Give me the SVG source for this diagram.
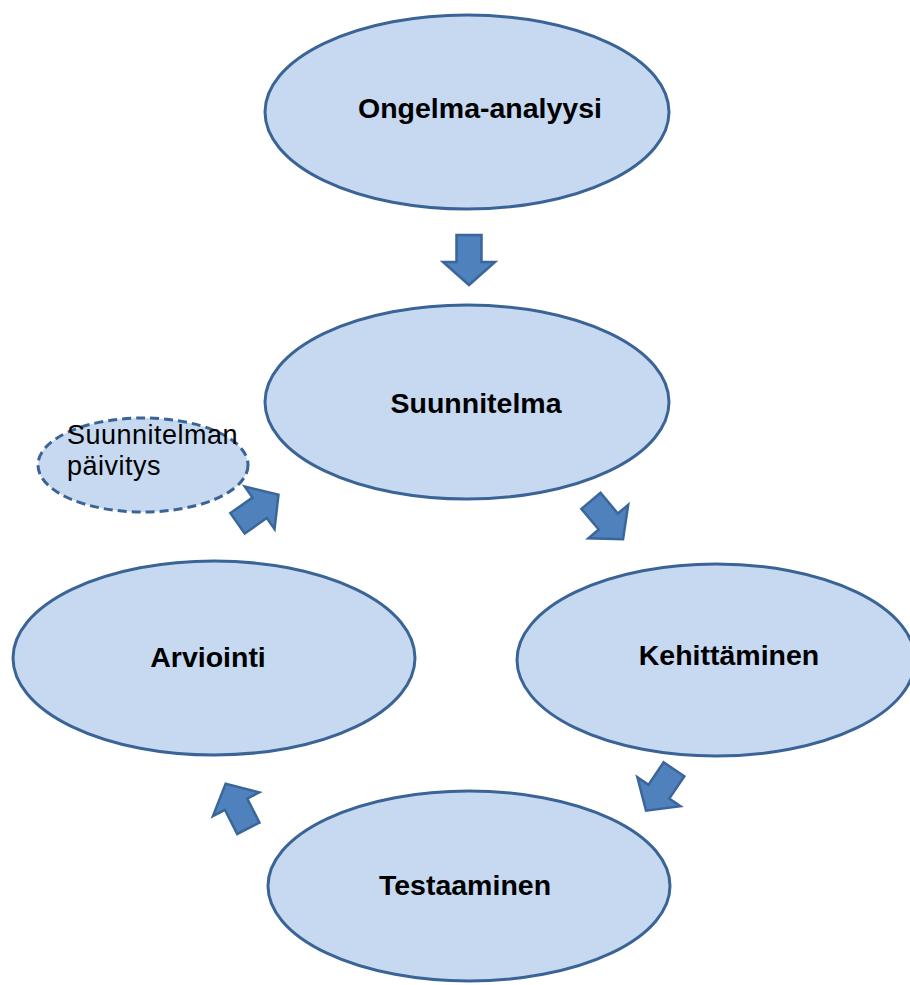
<svg xmlns="http://www.w3.org/2000/svg" width="910" height="985" viewBox="0 0 910 985">
<style>
.n{fill:#c6d9f1;stroke:#3b6496;stroke-width:3}
.d{fill:#c6d9f1;stroke:#3b6496;stroke-width:3;stroke-dasharray:9 5}
.t{font-family:"Liberation Sans",Arial,sans-serif;font-weight:bold;font-size:28.5px;fill:#000;text-anchor:middle}
.s{font-family:"Liberation Sans",Arial,sans-serif;font-size:27px;letter-spacing:0.5px;fill:#000}
.a{fill:#4f81bd;stroke:#3a6699;stroke-width:2.5;stroke-linejoin:miter}
</style>
<defs>
<polygon id="arr" points="-12.5,-25 12.5,-25 12.5,2 26,2 0,25 -26,2 -12.5,2"/>
</defs>
<rect width="910" height="985" fill="#fff"/>
<g id="ongelma"><ellipse class="n" cx="467" cy="112" rx="202" ry="97"/><text class="t" x="480" y="118">Ongelma-analyysi</text></g>
<g id="suunnitelma"><ellipse class="n" cx="467" cy="402" rx="202" ry="97"/><text class="t" x="476" y="413">Suunnitelma</text></g>
<g id="paivitys"><ellipse class="d" cx="143" cy="465" rx="105" ry="47"/><text class="s" x="67" y="444">Suunnitelman</text><text class="s" x="67" y="475">päivitys</text></g>
<g id="arviointi"><ellipse class="n" cx="214" cy="658" rx="201" ry="97"/><text class="t" x="208" y="667">Arviointi</text></g>
<g id="kehittaminen"><ellipse class="n" cx="716" cy="660" rx="199" ry="96"/><text class="t" x="729" y="665">Kehittäminen</text></g>
<g id="testaaminen"><ellipse class="n" cx="469" cy="886" rx="201" ry="95"/><text class="t" x="465" y="895">Testaaminen</text></g>
<g id="connectors">
<use href="#arr" class="a" transform="translate(469,260)"/>
<use href="#arr" class="a" transform="translate(607,520) rotate(-40)"/>
<use href="#arr" class="a" transform="translate(660,790) rotate(34)"/>
<use href="#arr" class="a" transform="translate(237,806) rotate(153)"/>
<use href="#arr" class="a" transform="translate(258,509) rotate(235)"/>
</g>
</svg>
